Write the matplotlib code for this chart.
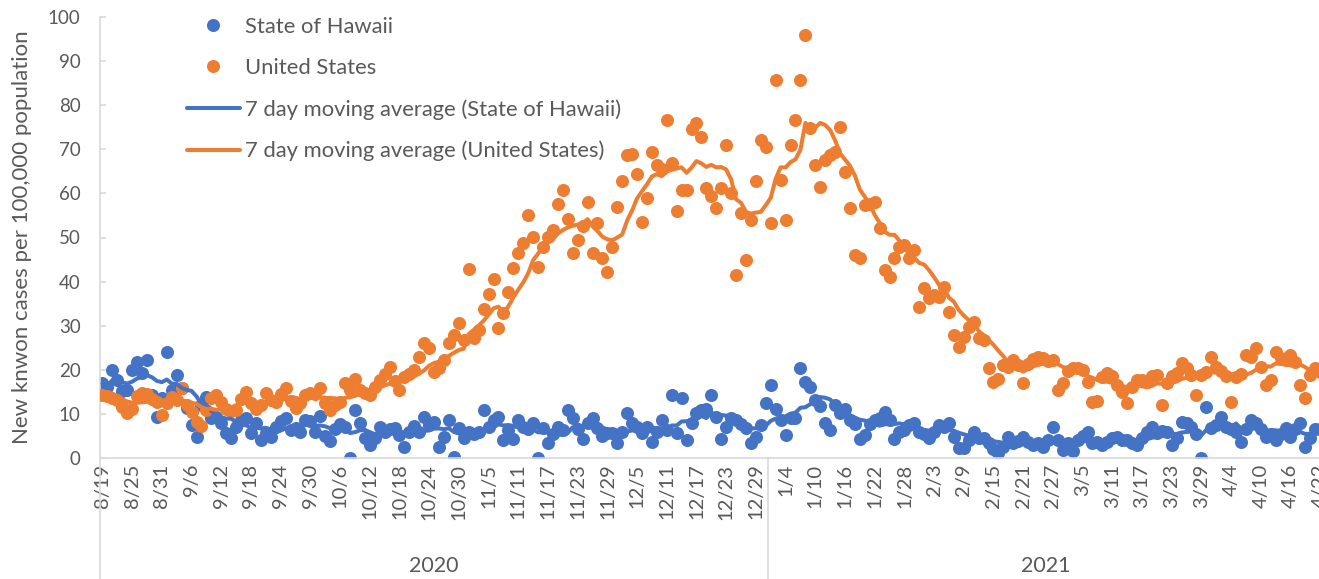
import matplotlib
matplotlib.use("Agg")

import matplotlib.pyplot as plt
import pandas as pd

plt.rcParams["font.family"] = ["Lato", "DejaVu Sans"]

START_DATE = "2020-08-19"

# daily new cases per 100,000 (8/19/2020 onward)
us_daily = [
    14.2, 14.0, 13.6, 13.2, 11.5, 10.3, 11.0, 14.0, 14.8, 14.5,
    13.4, 12.8, 9.8, 12.5, 13.8, 13.2, 15.8, 12.0, 10.4, 8.2,
    7.3, 10.8, 13.5, 14.3, 12.8, 11.0, 10.6, 10.8, 13.4, 15.0,
    12.5, 11.0, 12.0, 14.8, 13.2, 12.8, 14.6, 15.9, 13.0, 11.4,
    12.4, 14.2, 14.8, 14.5, 15.8, 12.5, 10.9, 12.0, 12.8, 16.9,
    15.5, 18.0, 15.4, 14.8, 14.3, 16.0, 17.7, 19.0, 20.7, 17.5,
    15.4, 18.4, 19.0, 19.9, 23.0, 26.0, 24.9, 19.6, 20.5, 22.2,
    26.0, 27.9, 30.5, 26.8, 42.8, 27.1, 29.0, 33.9, 37.3, 40.7,
    29.4, 32.8, 37.7, 43.0, 46.4, 48.7, 55.1, 50.2, 43.4, 47.9,
    50.2, 51.7, 57.7, 60.7, 54.3, 46.4, 49.4, 52.5, 58.1, 46.4,
    53.2, 45.3, 42.2, 47.9, 56.9, 62.9, 68.7, 69.0, 64.5, 53.6,
    58.9, 69.4, 66.4, 65.6, 76.6, 66.8, 55.9, 60.7, 60.7, 74.7,
    75.9, 72.9, 61.2, 59.3, 56.6, 61.2, 70.9, 60.0, 41.5, 55.5,
    44.9, 54.0, 62.7, 72.1, 70.6, 53.2, 85.7, 63.0, 54.0, 70.9,
    76.7, 85.7, 95.9, 74.8, 66.4, 61.5, 67.6, 68.7, 69.5, 75.1,
    64.9, 56.6, 46.0, 45.3, 57.4, 57.7, 58.1, 52.1, 42.6, 41.1,
    45.3, 47.9, 48.4, 45.4, 47.2, 34.3, 38.5, 36.2, 37.0, 36.5,
    38.8, 33.2, 27.9, 25.2, 27.5, 29.8, 30.9, 27.1, 26.8, 20.3,
    17.3, 18.0, 21.1, 20.6, 22.2, 21.1, 16.9, 21.4, 22.4, 23.0,
    22.6, 22.0, 22.2, 15.4, 16.9, 19.8, 20.3, 20.3, 20.0, 17.3,
    12.8, 13.0, 18.4, 19.2, 18.6, 16.5, 15.0, 12.4, 16.0, 17.6,
    17.7, 17.2, 18.6, 18.8, 12.0, 16.9, 18.5, 19.2, 21.5, 20.3,
    18.8, 14.3, 18.8, 19.6, 23.0, 20.6, 19.8, 18.5, 12.8, 18.4,
    19.0, 23.4, 23.0, 24.9, 20.6, 16.5, 17.6, 24.1, 22.6, 22.2,
    23.4, 21.8, 16.5, 13.5, 18.8, 20.3, 19.5,
]

hawaii_daily = [
    16.9, 16.0, 20.0, 17.7, 15.2, 15.4, 20.0, 21.8, 19.2, 22.2,
    14.3, 9.4, 13.5, 24.1, 15.4, 18.8, 15.8, 11.3, 7.5, 4.8,
    12.0, 13.9, 9.0, 9.4, 7.9, 5.6, 4.5, 7.1, 8.6, 9.0,
    5.6, 7.9, 4.1, 5.6, 4.8, 7.1, 8.5, 9.0, 6.4, 6.8,
    6.0, 8.6, 8.3, 6.0, 9.5, 5.0, 3.9, 6.5, 7.7, 7.0,
    0.0, 10.9, 7.9, 4.6, 3.0, 4.5, 7.1, 6.0, 6.5, 6.8,
    5.2, 2.5, 5.8, 7.3, 6.0, 9.4, 7.5, 8.2, 2.6, 4.8,
    8.6, 0.3, 6.8, 4.5, 6.0, 5.5, 6.0, 10.9, 7.1, 8.6,
    9.4, 4.1, 6.3, 4.4, 8.6, 7.1, 6.5, 7.9, 0.0, 6.7,
    3.3, 5.5, 7.1, 6.3, 10.9, 9.0, 6.5, 4.4, 7.9, 9.0,
    6.7, 5.0, 5.6, 5.6, 3.3, 6.0, 10.2, 7.9, 7.1, 5.6,
    7.1, 3.7, 6.0, 8.6, 6.3, 14.3, 5.6, 13.5, 4.1, 7.9,
    10.2, 10.9, 11.2, 14.3, 9.3, 4.4, 7.0, 9.0, 8.6, 7.8,
    6.7, 3.3, 4.8, 7.5, 12.4, 16.5, 11.2, 8.6, 5.2, 9.0,
    9.0, 20.3, 17.3, 16.2, 13.2, 11.7, 7.9, 6.4, 12.1, 10.2,
    11.2, 8.6, 7.8, 4.4, 5.2, 7.8, 8.6, 9.0, 10.5, 8.6,
    4.4, 6.0, 6.3, 7.5, 7.9, 6.0, 5.5, 4.5, 6.0, 7.5,
    7.0, 7.9, 4.8, 2.2, 2.2, 4.0, 6.0, 4.5, 4.5, 3.4,
    2.0, 1.1, 2.6, 4.8, 3.4, 3.8, 4.8, 3.7, 3.0, 3.4,
    2.6, 4.0, 7.1, 4.1, 1.9, 3.5, 1.5, 4.1, 5.0, 6.0,
    3.4, 3.6, 3.0, 3.7, 4.5, 4.8, 4.0, 4.1, 3.5, 3.0,
    4.5, 5.9, 7.1, 5.6, 6.2, 5.9, 3.0, 4.5, 8.2, 7.9,
    7.1, 5.5, 0.0, 11.6, 6.8, 7.5, 9.4, 7.1, 6.5, 5.9,
    3.7, 6.5, 8.6, 7.9, 6.5, 4.8, 5.5, 4.1, 5.5, 6.8,
    4.8, 6.5, 7.9, 2.6, 4.5, 6.5, 6.5,
]

assert len(us_daily) == len(hawaii_daily)

BLUE = "#4472C4"
ORANGE = "#ED7D31"
TEXT = "#595959"
AXIS = "#d9d9d9"

dates = pd.date_range(START_DATE, periods=len(us_daily), freq="D")
df = pd.DataFrame({"us": us_daily, "hi": hawaii_daily}, index=dates)
df["us_ma"] = df["us"].rolling(7, min_periods=1).mean()
df["hi_ma"] = df["hi"].rolling(7, min_periods=1).mean()
pos = list(range(len(df)))

W, H = 1319, 579
fig = plt.figure(figsize=(W / 100, H / 100), dpi=100)
# axes placed in pixels: left 100, top 17, bottom 458, 4.95 px per day
ax_left, ax_top, ax_bot = 100, 17, 458
ax_w = 4.95 * len(df)
ax = fig.add_axes([ax_left / W, (H - ax_bot) / H, ax_w / W, (ax_bot - ax_top) / H])

ax.plot(pos, df["hi"], "o", color=BLUE, ms=9.4, mew=0, label="State of Hawaii", zorder=2)
ax.plot(pos, df["us"], "o", color=ORANGE, ms=9.4, mew=0, label="United States", zorder=3)
ax.plot(pos, df["hi_ma"], color=BLUE, lw=2.9, solid_capstyle="round",
        label="7 day moving average (State of Hawaii)", zorder=4)
ax.plot(pos, df["us_ma"], color=ORANGE, lw=2.9, solid_capstyle="round",
        label="7 day moving average (United States)", zorder=5)

ax.set_xlim(-0.5, len(df) - 0.5)
ax.set_ylim(0, 100)
ax.set_yticks(range(0, 101, 10))

ticks = pos[::6]
ax.set_xticks(ticks)
ax.set_xticklabels([f"{d.month}/{d.day}" for d in dates[::6]], rotation=90)

for s in ["top", "right"]:
    ax.spines[s].set_visible(False)
ax.spines["left"].set_color(AXIS)
ax.spines["bottom"].set_color(AXIS)
ax.spines["left"].set_linewidth(1.2)
ax.spines["bottom"].set_linewidth(1.2)

ax.tick_params(axis="y", direction="in", length=4.5, width=1.2, color=AXIS,
               labelsize=13.5, labelcolor=TEXT, pad=14)
ax.tick_params(axis="x", length=0, labelsize=14.5, labelcolor=TEXT, pad=4)

ax.set_ylabel("New knwon cases per 100,000 population", fontsize=16, color=TEXT)
ax.yaxis.set_label_coords(-68 / ax_w, 0.5)

# year grouping under the day labels
ymin_line = -(H - ax_bot) / (ax_bot - ax_top)
year_start = [i for i, d in enumerate(dates) if d.month == 1 and d.day == 1][0]
ax.axvline(-0.5, ymin=ymin_line, ymax=0, color=AXIS, lw=1.2, clip_on=False)
ax.axvline(year_start - 0.5, ymin=ymin_line, ymax=0, color=AXIS, lw=1.2, clip_on=False)
ax.text((year_start - 1) / 2, -0.245, "2020", transform=ax.get_xaxis_transform(),
        ha="center", va="center", fontsize=15.5, color=TEXT)
ax.text((year_start + len(df) - 1) / 2, -0.245, "2021", transform=ax.get_xaxis_transform(),
        ha="center", va="center", fontsize=15.5, color=TEXT)

leg = ax.legend(loc="upper left", bbox_to_anchor=(87 / ax_w, 1.0), frameon=False,
                fontsize=15.8, labelcolor=TEXT, handlelength=2.4, handletextpad=0.23,
                labelspacing=0.96, borderpad=0, borderaxespad=0)

fig.savefig("out.png", dpi=100)
